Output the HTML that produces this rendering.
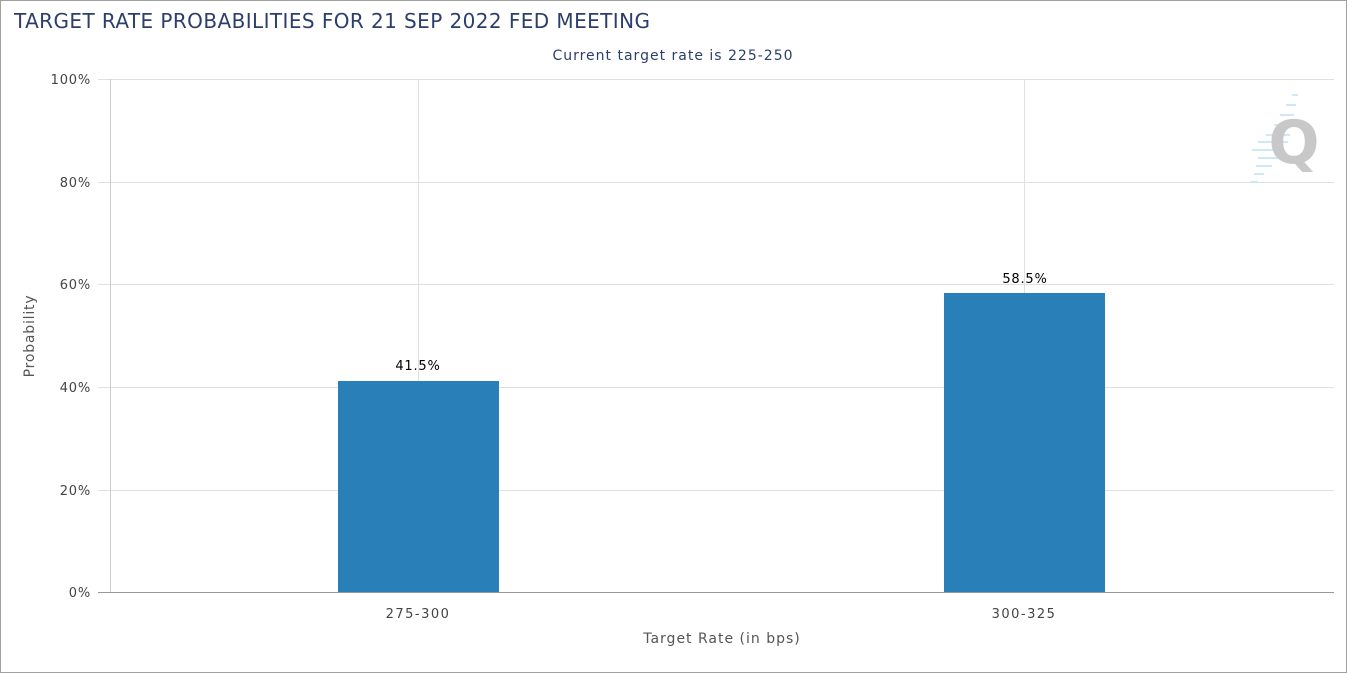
<!DOCTYPE html>
<html><head><meta charset="utf-8"><style>
html,body{margin:0;padding:0;background:#fff}
svg{display:block}
text{font-family:"DejaVu Sans","Liberation Sans",sans-serif}
</style></head><body>
<svg width="1347" height="673" xmlns="http://www.w3.org/2000/svg">
<rect x="0.5" y="0.5" width="1346" height="672" fill="#fff" stroke="#a0a0a0"/>
<text x="14" y="28" font-size="20" fill="#2c3e6b" textLength="636" lengthAdjust="spacing">TARGET RATE PROBABILITIES FOR 21 SEP 2022 FED MEETING</text>
<text x="673" y="60" font-size="14" fill="#2c3e6b" text-anchor="middle" letter-spacing="1">Current target rate is 225-250</text>
<g stroke="#e0e0e0" stroke-width="1">
<line x1="98" y1="79.5" x2="1334" y2="79.5"/>
<line x1="98" y1="182.5" x2="1334" y2="182.5"/>
<line x1="98" y1="284.5" x2="1334" y2="284.5"/>
<line x1="98" y1="387.5" x2="1334" y2="387.5"/>
<line x1="98" y1="490.5" x2="1334" y2="490.5"/>
<line x1="418.5" y1="79" x2="418.5" y2="592"/>
<line x1="1024.5" y1="79" x2="1024.5" y2="592"/>
</g>
<line x1="110.5" y1="79" x2="110.5" y2="592" stroke="#ccc"/>
<line x1="98" y1="592.5" x2="1334" y2="592.5" stroke="#999"/>
<g font-size="13" fill="#444" text-anchor="end" letter-spacing="0.8">
<text x="91" y="84">100%</text>
<text x="91" y="187">80%</text>
<text x="91" y="289">60%</text>
<text x="91" y="392">40%</text>
<text x="91" y="495">20%</text>
<text x="91" y="597">0%</text>
</g>
<text transform="translate(34,336) rotate(-90)" font-size="14" fill="#555" text-anchor="middle" letter-spacing="0.8">Probability</text>
<rect x="338" y="381" width="161" height="211" fill="#2980b9"/>
<rect x="944" y="293" width="161" height="299" fill="#2980b9"/>
<text x="418" y="370" font-size="13" fill="#000" text-anchor="middle" letter-spacing="0.8">41.5%</text>
<text x="1025" y="283" font-size="13" fill="#000" text-anchor="middle" letter-spacing="0.8">58.5%</text>
<text x="418" y="618" font-size="13" fill="#444" text-anchor="middle" letter-spacing="1.5">275-300</text>
<text x="1024" y="618" font-size="13" fill="#444" text-anchor="middle" letter-spacing="1.5">300-325</text>
<text x="722" y="643" font-size="14" fill="#555" text-anchor="middle" letter-spacing="1">Target Rate (in bps)</text>
<g stroke="#cfe8f6" stroke-width="2">
<line x1="1292" y1="95" x2="1298" y2="95"/><line x1="1286" y1="105" x2="1296" y2="105"/>
<line x1="1280" y1="115" x2="1294" y2="115"/><line x1="1274" y1="125" x2="1292" y2="125"/>
<line x1="1266" y1="135" x2="1290" y2="135"/><line x1="1258" y1="142" x2="1288" y2="142"/>
<line x1="1252" y1="150" x2="1282" y2="150"/><line x1="1258" y1="158" x2="1278" y2="158"/>
<line x1="1256" y1="166" x2="1272" y2="166"/><line x1="1254" y1="174" x2="1264" y2="174"/>
<line x1="1250" y1="182" x2="1258" y2="182"/>
</g>
<text x="1294" y="163" font-size="60" font-weight="bold" fill="#c8c8c8" text-anchor="middle" font-family="Liberation Sans,sans-serif">Q</text>
</svg>
</body></html>
